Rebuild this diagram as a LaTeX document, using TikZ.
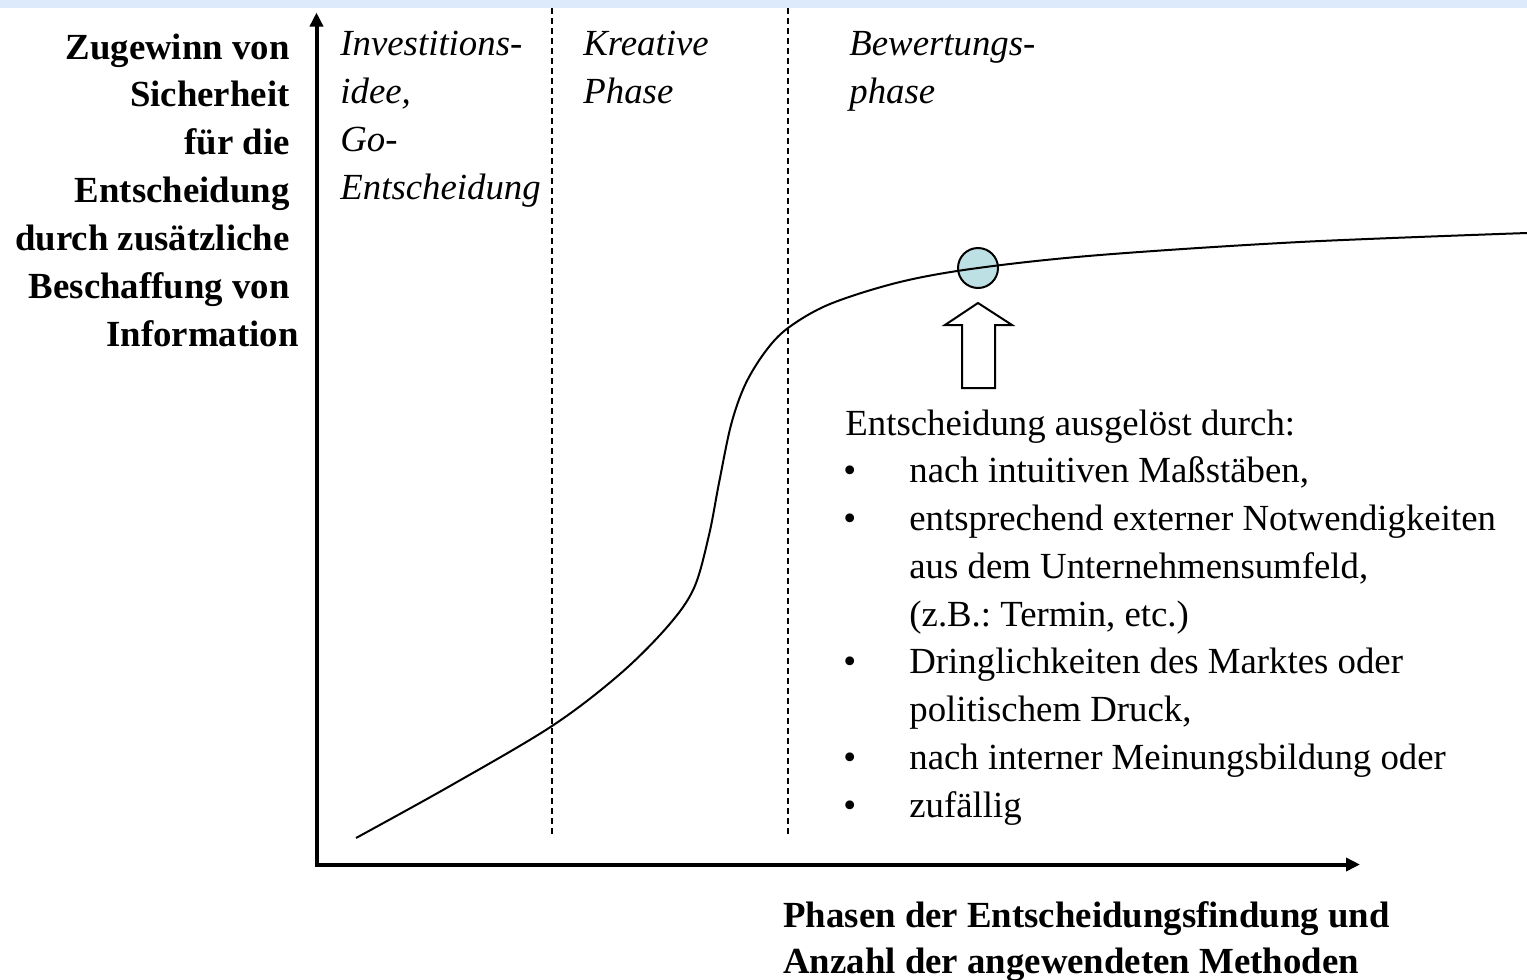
\documentclass[tikz,border=0pt]{standalone}
\usepackage{fontspec}
\setmainfont{Liberation Serif}
\usetikzlibrary{arrows.meta}
\definecolor{topbar}{RGB}{221,234,251}
\definecolor{markfill}{RGB}{189,224,228}
\frenchspacing
\begin{document}
\begin{tikzpicture}[x=0.5pt,y=-0.5pt,
  txt/.style={inner sep=0pt, font=\fontsize{18.4pt}{23.85pt}\selectfont},
  ylab/.style={txt, anchor=base east, font=\fontsize{18.4pt}{23.85pt}\selectfont\bfseries},
  phaselab/.style={txt, anchor=base west, font=\fontsize{18.4pt}{23.85pt}\selectfont\itshape},
  xlab/.style={txt, anchor=base west, font=\fontsize{18.4pt}{23.85pt}\selectfont\bfseries},
  listtxt/.style={txt, anchor=base west},
  axis/.style={line width=2pt, line join=miter, {Triangle[length=7pt,width=6.5pt]}-{Triangle[length=7pt,width=6.5pt]}},
  phaseline/.style={line width=1pt, dash pattern=on 3pt off 2pt},
  curveline/.style={line width=1pt},
  outline/.style={line width=1pt, draw=black}]
\useasboundingbox (0,0) rectangle (1527,980);
\fill[topbar] (0,0) rectangle (1527,7.5);

% axes
\coordinate (ytip) at (316.5,12.5);
\coordinate (O) at (316.5,864.5);
\coordinate (xtip) at (1360,864.5);
\draw[axis] (ytip) -- (O) -- (xtip);

% phase separators
\coordinate (d1top) at (552,8); \coordinate (d1bot) at (552,835);
\coordinate (d2top) at (788,8); \coordinate (d2bot) at (788,835);
\draw[phaseline] (d1top) -- (d1bot);
\draw[phaseline] (d2top) -- (d2bot);

% marker and block arrow
\node[outline, circle, fill=markfill, minimum size=20pt, inner sep=0pt] (mark) at (978,268) {};
\draw[outline, fill=white, line join=miter] (978,303) -- (1012,325) -- (995,325) -- (995,388) -- (962,388) -- (962,325) -- (945,325) -- cycle;

% S-curve
\draw[curveline] plot[smooth, tension=0.55] coordinates {(356,838) (450,786) (552,726) (620,674) (668,626) (694,588) (709,535) (719,483) (731,425) (745,385) (765,352) (788,328) (830,304) (900,282) (978,268) (1100,255) (1300,242) (1527,233)};

% y-axis label
\foreach \t [count=\i] in {Zugewinn von, Sicherheit, für die, Entscheidung, durch zusätzliche, Beschaffung von}
  \node[ylab] (yl\i) at ({290},{59+47.9*(\i-1)}) {\t};
\node[ylab] (yl7) at (299,346.5) {Information};

% phase labels
\node[phaselab] (p1a) at (340,55) {Investitions-};
\node[phaselab] (p1b) at (340,103) {idee,};
\node[phaselab] (p1c) at (340,151) {Go-};
\node[phaselab] (p1d) at (340,199) {Entscheidung};
\node[phaselab] (p2a) at (583,55) {Kreative};
\node[phaselab] (p2b) at (583,103) {Phase};
\node[phaselab] (p3a) at (849,55) {Bewertungs-};
\node[phaselab] (p3b) at (849,103) {phase};

% x-axis label
\node[xlab] (xl1) at (783,927) {Phasen der Entscheidungsfindung und};
\node[xlab] (xl2) at (783,973) {Anzahl der angewendeten Methoden};

% decision list
\node[listtxt] (lh) at (845,435) {Entscheidung ausgelöst durch:};
\node[listtxt] (b1) at (843,482.75) {•};
\node[listtxt] (l1) at (909,482.75) {nach intuitiven Maßstäben,};
\node[listtxt] (b2) at (843,530.5) {•};
\node[listtxt] (l2) at (909,530.5) {entsprechend externer Notwendigkeiten};
\node[listtxt] (l3) at (909,578.25) {aus dem Unternehmensumfeld,};
\node[listtxt] (l4) at (909,626) {(z.B.: Termin, etc.)};
\node[listtxt] (b5) at (843,673.75) {•};
\node[listtxt] (l5) at (909,673.75) {Dringlichkeiten des Marktes oder};
\node[listtxt] (l6) at (909,721.5) {politischem Druck,};
\node[listtxt] (b7) at (843,769.25) {•};
\node[listtxt] (l7) at (909,769.25) {nach interner Meinungsbildung oder};
\node[listtxt] (b8) at (843,817) {•};
\node[listtxt] (l8) at (909,817) {zufällig};
\end{tikzpicture}
\end{document}
